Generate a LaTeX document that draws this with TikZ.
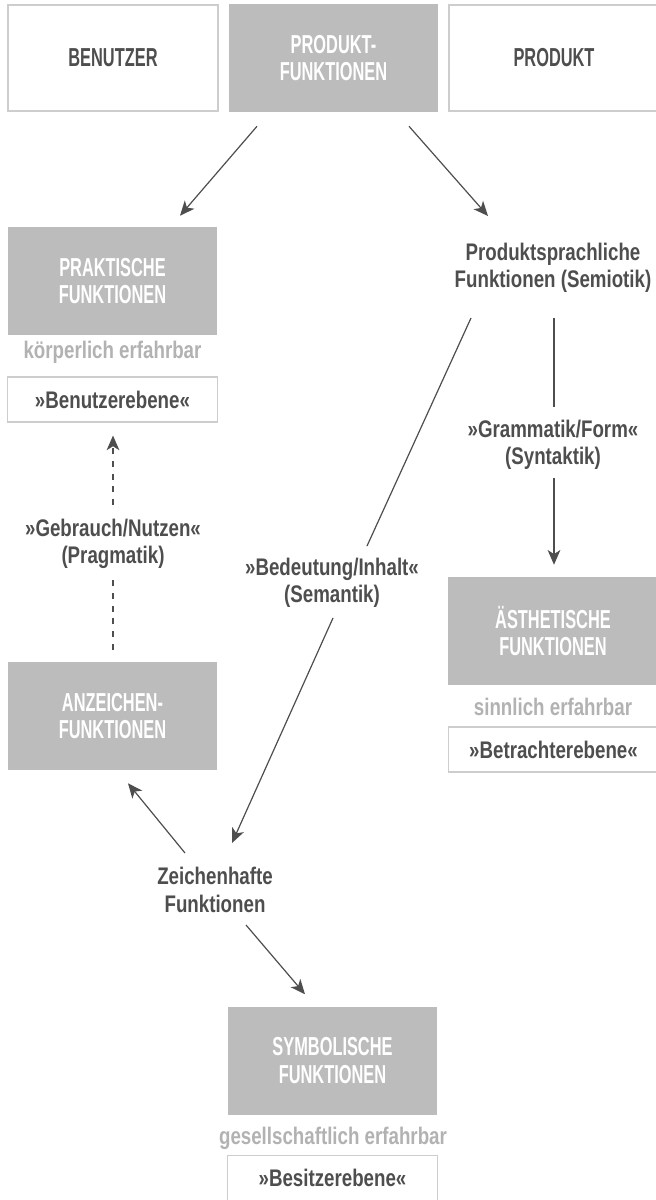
\documentclass[tikz,border=0pt]{standalone}
\usepackage{fontspec}
\setmainfont{Liberation Sans}[FakeStretch=0.78]
\newfontfamily\capsfont{Liberation Sans}[FakeStretch=0.63]
\usetikzlibrary{arrows.meta,positioning}
\definecolor{boxgray}{RGB}{188,188,188}
\definecolor{inkgray}{RGB}{78,78,78}
\definecolor{softgray}{RGB}{178,178,178}
\definecolor{rulegray}{RGB}{205,205,205}
\newcommand\capsfnt{\capsfont\fontsize{19.5}{20.5}\selectfont\bfseries}
\newcommand\txtfnt{\fontsize{18}{20.5}\selectfont\bfseries}

\begin{document}
\begin{tikzpicture}[x=0.75pt,y=-0.75pt]

\tikzset{plainbox/.style={draw=rulegray,line width=0.8pt,fill=white,text=inkgray,font=\capsfnt,
           align=center,minimum width=157.5pt,minimum height=79.5pt,inner sep=0pt},
         fktbox/.style={fill=boxgray,text=white,font=\capsfnt,align=center,
           minimum width=157pt,minimum height=81pt,inner sep=0pt},
         levelbox/.style={draw=rulegray,line width=0.8pt,fill=white,text=inkgray,font=\txtfnt,
           minimum width=157pt,minimum height=33.75pt,inner sep=0pt},
         note/.style={text=softgray,font=\txtfnt},
         lbl/.style={text=inkgray,font=\txtfnt,align=center},
         arr/.style={draw=inkgray,line width=0.9pt,-{Stealth[length=11pt,width=9.5pt,inset=3pt]}},
         link/.style={draw=inkgray,line width=0.9pt}}

\fill[white] (0,0) rectangle (656,1200);
\useasboundingbox (0,0) rectangle (656,1200);

% top row
\node[plainbox] (benutzer) at (113,58) {BENUTZER};
\node[fktbox] (prodfkt) at (333.5,58) {PRODUKT-\\FUNKTIONEN};
\node[plainbox] (produkt) at (554,58) {PRODUKT};

% left column
\node[fktbox] (praktisch) at (112.5,281) {PRAKTISCHE\\FUNKTIONEN};
\node[note] (koerper) at (112.5,352) {körperlich erfahrbar};
\node[levelbox] (benebene) at (112.5,399.5) {»Benutzerebene«};
\node[lbl] (pragmatik) at (113,544) {»Gebrauch/Nutzen«\\(Pragmatik)};
\node[fktbox] (anzeichen) at (112.5,716) {ANZEICHEN-\\FUNKTIONEN};

% right column
\node[lbl] (semiotik) at (553,268) {Produktsprachliche\\Funktionen (Semiotik)};
\node[lbl] (syntaktik) at (553,445) {»Grammatik/Form«\\(Syntaktik)};
\node[fktbox] (aesthetisch) at (553,631) {ÄSTHETISCHE\\FUNKTIONEN};
\node[note] (sinnlich) at (553,707) {sinnlich erfahrbar};
\node[levelbox] (betrachter) at (553.5,749.5) {»Betrachterebene«};

% middle
\node[lbl] (semantik) at (332,583) {»Bedeutung/Inhalt«\\(Semantik)};
\node[lbl] (zeichen) at (215,890) {Zeichenhafte\\Funktionen};
\node[fktbox] (symbol) at (332.5,1060.5) {SYMBOLISCHE\\FUNKTIONEN};
\node[note] (gesell) at (333,1138) {gesellschaftlich erfahrbar};
\node[levelbox] (besitzer) at (332.5,1178) {»Besitzerebene«};

% connectors
\draw[arr] ([shift={(-76.5,14)}]prodfkt.south) -- ([shift={(67.5,-11)}]praktisch.north);
\draw[arr] ([shift={(75.5,14)}]prodfkt.south) -- ([shift={(-65,-52)}]semiotik.center);
\draw[link] ([shift={(1,50)}]semiotik.center) -- ([shift={(1,-38)}]syntaktik.center);
\draw[arr] ([shift={(1,33)}]syntaktik.center) -- ([shift={(1,-12)}]aesthetisch.north);
\draw[link] ([shift={(-82,50)}]semiotik.center) -- ([shift={(35,-37)}]semantik.center);
\draw[arr] ([shift={(1,35)}]semantik.center) -- ([shift={(17,-47)}]zeichen.center);
\draw[link,dash pattern=on 4.5pt off 5pt] ([shift={(0.5,-12)}]anzeichen.north) -- ([shift={(0,36)}]pragmatik.center);
\draw[arr,dash pattern=on 4.5pt off 5pt] ([shift={(0,-39)}]pragmatik.center) -- ([shift={(0.5,13)}]benebene.south);
\draw[arr] ([shift={(-30,-37)}]zeichen.center) -- ([shift={(15.5,13)}]anzeichen.south);
\draw[arr] ([shift={(31,35)}]zeichen.center) -- ([shift={(-27.5,-12)}]symbol.north);

\end{tikzpicture}
\end{document}
